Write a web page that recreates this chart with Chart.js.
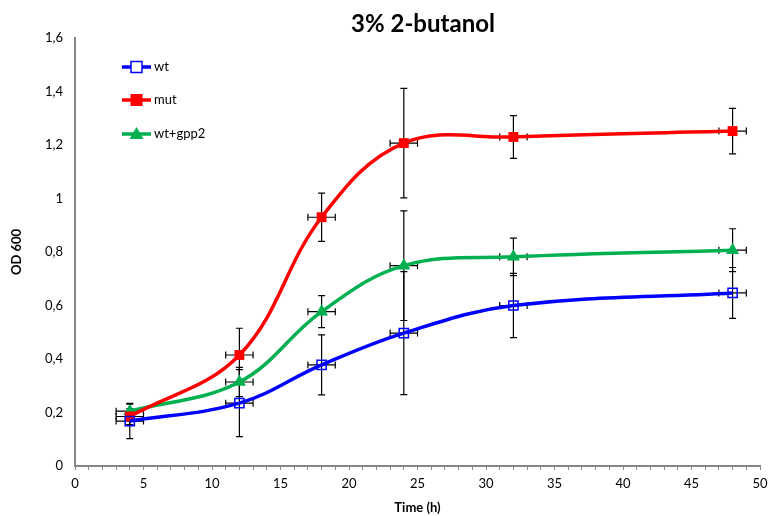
<!DOCTYPE html>
<html>
<head>
<meta charset="utf-8">
<script src="https://cdn.jsdelivr.net/npm/chart.js@4.4.1/dist/chart.umd.min.js"></script>
<style>
html,body{margin:0;padding:0;background:#fff;}
#wrap{width:768px;height:516px;position:relative;}
</style>
</head>
<body>
<div id="wrap"><canvas id="c" width="768" height="516"></canvas></div>
<script>
const hours = [4, 12, 18, 24, 32, 48];
const wt = [0.168, 0.235, 0.378, 0.497, 0.600, 0.647];
const wtErr = [0.066, 0.125, 0.112, 0.23, 0.12, 0.095];
const mut = [0.185, 0.415, 0.930, 1.207, 1.230, 1.252];
const mutErr = [0.03, 0.10, 0.09, 0.205, 0.08, 0.085];
const gpp2 = [0.205, 0.314, 0.577, 0.749, 0.782, 0.807];
const gpp2Err = [0.026, 0.055, 0.06, 0.205, 0.07, 0.08];
const timeErr = [1, 1, 1, 1, 1, 1];
const seriesNames = ['wt', 'mut', 'wt+gpp2'];
const titleText = '3% 2-butanol';
const xTitle = 'Time (h)';
const yTitle = 'OD 600';

const FONT = 'Lato, "Open Sans", sans-serif';

function pts(vals){ return hours.map((h,i)=>({x:h,y:vals[i]})); }

const errorBars = {
  id:'errorBars',
  beforeDatasetsDraw(chart){
    const ctx = chart.ctx, xs = chart.scales.x, ys = chart.scales.y;
    const errs = [wtErr, mutErr, gpp2Err];
    ctx.save();
    ctx.strokeStyle = '#000';
    ctx.lineWidth = 1.2;
    chart.data.datasets.forEach((ds, di)=>{
      ds.data.forEach((p, i)=>{
        const cx = xs.getPixelForValue(p.x), cy = ys.getPixelForValue(p.y);
        const t = ys.getPixelForValue(p.y + errs[di][i]);
        const b = ys.getPixelForValue(p.y - errs[di][i]);
        const l = xs.getPixelForValue(p.x - timeErr[i]);
        const r = xs.getPixelForValue(p.x + timeErr[i]);
        ctx.beginPath();
        ctx.moveTo(cx, t); ctx.lineTo(cx, b);
        ctx.moveTo(cx-3.5, t); ctx.lineTo(cx+3.5, t);
        ctx.moveTo(cx-3.5, b); ctx.lineTo(cx+3.5, b);
        ctx.moveTo(l, cy); ctx.lineTo(r, cy);
        ctx.moveTo(l, cy-3.5); ctx.lineTo(l, cy+3.5);
        ctx.moveTo(r, cy-3.5); ctx.lineTo(r, cy+3.5);
        ctx.stroke();
      });
    });
    ctx.restore();
  }
};

const titleAndLegend = {
  id:'titleAndLegend',
  afterDraw(chart){
    const ctx = chart.ctx;
    ctx.save();
    ctx.fillStyle = '#000';
    ctx.font = 'bold 24px ' + FONT;
    ctx.textAlign = 'center';
    ctx.textBaseline = 'middle';
    ctx.fillText(titleText, 423, 24);

    const rows = [67, 100, 134];
    chart.data.datasets.forEach((ds, i)=>{
      const y = rows[i];
      ctx.strokeStyle = ds.borderColor;
      ctx.lineWidth = 3.5;
      ctx.beginPath(); ctx.moveTo(122, y); ctx.lineTo(151, y); ctx.stroke();
      const cx = 136.5;
      if (i === 0){
        ctx.fillStyle = '#fff'; ctx.fillRect(cx-5.5, y-5.5, 11, 11);
        ctx.lineWidth = 1.5; ctx.strokeStyle = ds.borderColor; ctx.strokeRect(cx-5.5, y-5.5, 11, 11);
      } else if (i === 1){
        ctx.fillStyle = ds.borderColor; ctx.fillRect(cx-6, y-6, 12, 12);
      } else {
        ctx.fillStyle = ds.borderColor;
        ctx.beginPath(); ctx.moveTo(cx, y-7); ctx.lineTo(cx+7, y+5); ctx.lineTo(cx-7, y+5); ctx.closePath(); ctx.fill();
      }
      ctx.fillStyle = '#000';
      ctx.font = '13px ' + FONT;
      ctx.textBaseline = 'middle';
      ctx.textAlign = 'left';
      ctx.fillText(ds.label, 154, y);
    });
    ctx.restore();
  }
};

const common = {borderWidth:3.5, tension:0.38, cubicInterpolationMode:'default', fill:false};

new Chart(document.getElementById('c'), {
  type:'line',
  data:{
    datasets:[
      Object.assign({label:seriesNames[0], data:pts(wt), borderColor:'#0000FF', pointStyle:'rect', pointRadius:6.5, pointBorderWidth:1.5, pointBackgroundColor:'rgba(255,255,255,0)', pointBorderColor:'#0000FF'}, common),
      Object.assign({label:seriesNames[1], data:pts(mut), borderColor:'#FF0000', pointStyle:'rect', pointRadius:7, pointBorderWidth:0, pointBackgroundColor:'#FF0000', pointBorderColor:'#FF0000'}, common),
      Object.assign({label:seriesNames[2], data:pts(gpp2), borderColor:'#00B050', pointStyle:'triangle', pointRadius:7.5, pointBorderWidth:0, pointBackgroundColor:'#00B050', pointBorderColor:'#00B050'}, common)
    ]
  },
  options:{
    responsive:false,
    animation:false,
    events:[],
    layout:{padding:{left:0,right:6,top:38,bottom:0}},
    plugins:{
      legend:{display:false},
      tooltip:{enabled:false},
      title:{display:false}
    },
    scales:{
      x:{
        type:'linear', min:0, max:50,
        border:{color:'#868686', width:2},
        grid:{drawOnChartArea:false, drawTicks:true, tickLength:4, color:'#868686', lineWidth:1},
        ticks:{stepSize:1, autoSkip:false, maxRotation:0, padding:6, color:'#000', font:{family:FONT, size:13},
          callback:(v)=> (v%5===0 ? String(v) : '')},
        title:{display:true, text:xTitle, color:'#000', font:{family:FONT, size:13, weight:'bold'}, padding:{top:2,bottom:0}},
        afterFit:(s)=>{ s.height = 50; s.paddingRight = 0; s.paddingLeft = 0; }
      },
      y:{
        type:'linear', min:0, max:1.6,
        border:{color:'#868686', width:2},
        grid:{display:true, drawOnChartArea:false, drawTicks:false},
        ticks:{stepSize:0.2, padding:12, color:'#000', font:{family:FONT, size:13},
          callback:(v)=>{ const r = Math.round(v*10)/10; return r===0 ? '0' : String(r).replace('.', ','); }},
        title:{display:true, text:yTitle, color:'#000', font:{family:FONT, size:13, weight:'bold'}, padding:{top:9,bottom:0}},
        afterFit:(s)=>{ s.width = 75; s.paddingTop = 0; s.paddingBottom = 0; }
      }
    }
  },
  plugins:[errorBars, titleAndLegend]
});
</script>
</body>
</html>
